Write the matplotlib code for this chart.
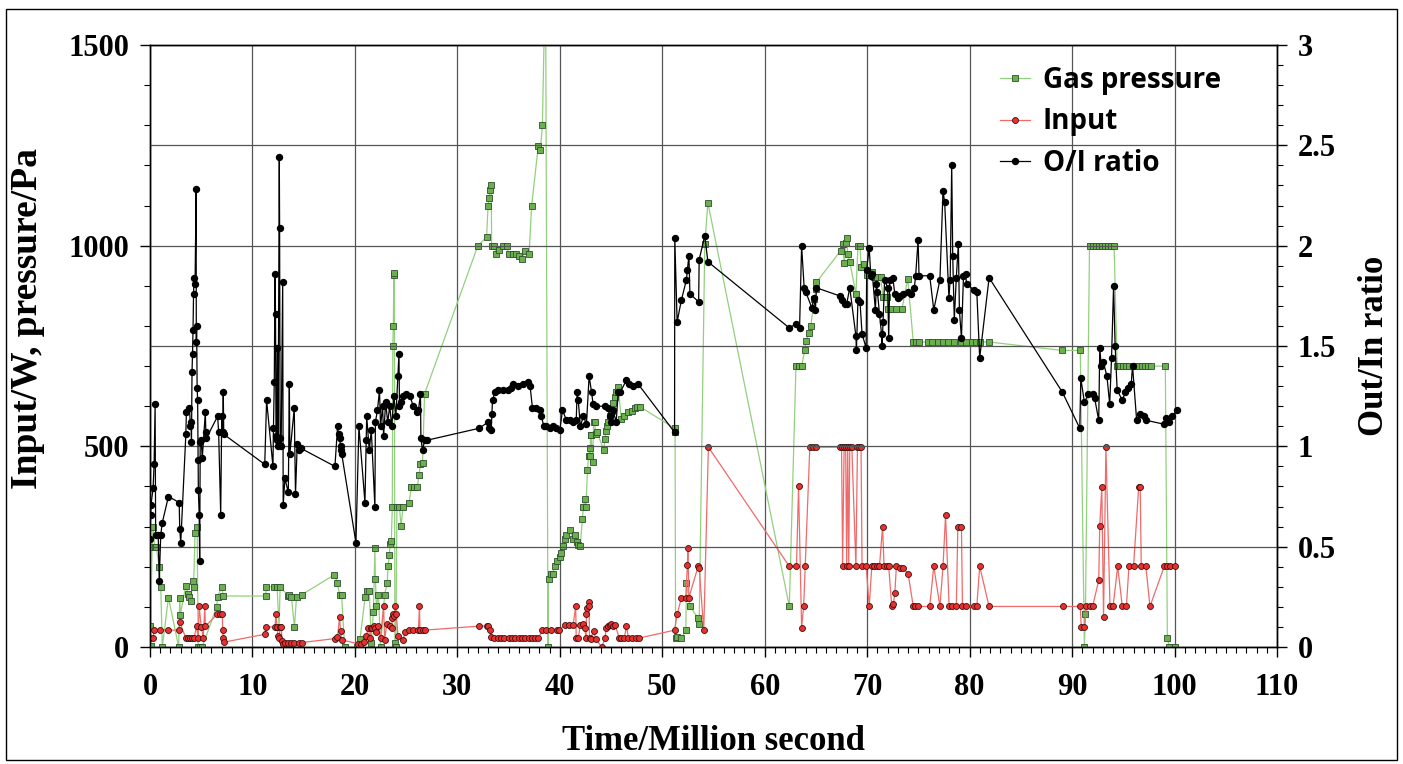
import matplotlib
matplotlib.use('Agg')
import matplotlib.pyplot as plt
from matplotlib.ticker import MultipleLocator, FormatStrFormatter
from matplotlib.lines import Line2D
from matplotlib.patches import Rectangle

# Gas pressure (Pa) vs time (million s)
gas_t = [0.0, 0.05, 0.2, 0.3, 0.45, 0.6, 0.9, 1.05, 1.2, 1.8, 2.8, 2.9, 2.95, 3.5, 3.7, 3.85, 4.0, 4.15, 4.25, 4.4,
         4.6, 4.7, 4.9, 5.1, 6.5, 6.6, 7.0, 7.15, 11.3, 11.35, 12.1, 12.4, 12.6, 12.7, 13.5, 13.6, 13.8, 14.1, 14.3, 14.8,
         18.0, 18.3, 18.5, 18.7, 19.0, 20.2, 20.5, 21.0, 21.2, 21.4, 21.6, 21.8, 21.95, 22.0, 22.1, 22.3, 22.5, 22.9, 23.15, 23.25,
         23.35, 23.45, 23.55, 23.65, 23.7, 23.75, 23.8, 23.85, 23.9, 24.0, 24.1, 24.35, 24.5, 24.7, 25.3, 25.5, 25.8, 26.1, 26.25, 26.4,
         26.6, 26.8, 32.0, 32.85, 33.0, 33.1, 33.2, 33.3, 33.35, 33.6, 33.8, 34.1, 34.5, 34.8, 35.0, 35.4, 35.7, 36.0, 36.3, 36.6,
         37.0, 37.25, 37.9, 38.1, 38.3, 38.6, 38.85, 38.9, 39.1, 39.3, 39.5, 39.7, 40.0, 40.1, 40.3, 40.5, 40.6, 41.0, 41.3, 41.5,
         41.7, 41.8, 42.0, 42.2, 42.3, 42.45, 42.55, 42.7, 42.8, 42.9, 42.95, 43.0, 43.05, 43.2, 43.3, 43.4, 43.5, 43.6, 44.3, 44.4,
         44.5, 44.6, 44.7, 44.85, 45.05, 45.2, 45.4, 45.5, 45.7, 46.0, 46.3, 46.7, 47.0, 47.3, 47.55, 47.8, 51.2, 51.25, 51.3, 51.45,
         51.87, 52.3, 52.36, 52.7, 53.5, 53.6, 54.15, 54.45, 62.4, 63.05, 63.3, 63.6, 63.9, 64.0, 64.35, 64.5, 64.85, 65.0, 65.05, 67.4,
         67.6, 67.75, 67.9, 68.0, 68.1, 68.3, 68.9, 69.1, 69.3, 69.4, 69.7, 70.0, 70.5, 70.7, 71.0, 71.3, 71.55, 71.9, 72.0, 72.3,
         72.8, 73.4, 73.96, 74.5, 74.8, 75.1, 75.9, 76.3, 76.9, 77.4, 77.9, 78.5, 79.2, 79.6, 80.2, 80.6, 81.0, 81.9, 89.0, 90.8,
         91.2, 91.3, 91.7, 92.0, 92.3, 92.6, 92.9, 93.2, 93.5, 93.8, 94.1, 94.4, 94.7, 95.0, 95.3, 95.6, 95.9, 96.2, 96.5, 96.8,
         97.1, 97.4, 97.7, 99.1, 99.3, 99.5, 100.0]
gas_p = [52, 3, 250, 300, 250, 250, 200, 150, 0, 123, 0, 123, 80, 153, 133, 125, 115, 165, 150, 285,
         300, 0, 0, 0, 100, 125, 150, 127, 127, 150, 150, 150, 50, 150, 127, 130, 125, 50, 125, 130,
         180, 160, 130, 130, 0, 0, 20, 125, 140, 140, 10, 86, 247, 169, 101, 130, 0, 130, 160, 203,
         228, 257, 264, 348, 750, 801, 926, 931, 10, 0, 348, 348, 301, 348, 360, 399, 399, 399, 428, 457,
         459, 631, 1000, 1021, 1100, 1120, 1139, 1151, 1000, 1000, 980, 990, 1000, 1000, 980, 980, 980, 975, 967, 987,
         980, 1099, 1249, 1239, 1300, 1700, 0, 169, 182, 182, 203, 215, 225, 235, 252, 268, 280, 291, 270, 280,
         262, 255, 252, 320, 348, 370, 350, 440, 475, 497, 475, 528, 528, 460, 560, 560, 530, 536, 491, 518,
         538, 550, 560, 575, 589, 609, 622, 635, 648, 567, 575, 585, 588, 595, 599, 599, 545, 536, 23, 25,
         22, 42, 159, 101, 72, 57, 1004, 1107, 101, 700, 700, 700, 739, 762, 782, 801, 868, 892, 909, 987,
         1003, 956, 1006, 1019, 980, 960, 880, 1000, 1000, 948, 955, 928, 934, 921, 921, 921, 873, 873, 843, 843,
         843, 843, 918, 760, 760, 760, 760, 760, 760, 760, 760, 760, 760, 760, 760, 760, 760, 760, 739, 739,
         0, 81, 1000, 1000, 1000, 1000, 1000, 1000, 1000, 1000, 1000, 700, 700, 700, 700, 700, 700, 700, 700, 700,
         700, 700, 700, 700, 22, 0, 0]

# Input power (W)
inp_t = [0.0, 0.3, 0.4, 1.0, 1.8, 2.85, 2.9, 3.5, 3.7, 3.9, 4.1, 4.3, 4.55, 4.7, 4.8, 5.0, 5.2, 5.35, 5.4, 6.55,
         6.8, 7.05, 7.1, 7.15, 7.2, 11.25, 11.3, 12.2, 12.3, 12.4, 12.5, 12.6, 12.7, 12.8, 12.9, 13.0, 13.2, 13.5, 13.8, 14.1,
         14.5, 14.8, 18.05, 18.3, 18.5, 18.6, 18.7, 20.3, 20.6, 20.9, 21.1, 21.3, 21.5, 21.6, 21.7, 21.9, 22.0, 22.1, 22.3, 22.5,
         22.8, 22.9, 23.1, 23.4, 23.6, 23.65, 23.7, 23.85, 23.95, 24.05, 24.2, 24.7, 24.9, 25.3, 25.7, 26.2, 26.3, 26.35, 26.6, 26.8,
         32.1, 32.9, 33.0, 33.2, 33.3, 33.6, 34.0, 34.3, 34.6, 35.0, 35.3, 35.6, 36.0, 36.3, 36.6, 37.0, 37.3, 37.6, 37.9, 38.3,
         38.7, 39.1, 39.7, 39.9, 40.5, 40.9, 41.3, 41.55, 41.6, 41.8, 42.0, 42.3, 42.45, 42.55, 42.6, 42.7, 42.8, 42.85, 42.9, 43.0,
         43.3, 43.5, 44.1, 44.4, 44.55, 44.7, 44.85, 45.0, 45.2, 45.4, 45.8, 46.0, 46.3, 46.5, 46.7, 47.0, 47.4, 47.7, 51.2, 51.45,
         51.87, 52.3, 52.45, 52.5, 52.6, 53.5, 53.6, 54.05, 54.5, 62.4, 63.1, 63.3, 63.6, 63.8, 63.95, 64.4, 64.7, 65.0, 67.3, 67.5,
         67.6, 67.75, 67.9, 68.0, 68.1, 68.2, 68.3, 68.5, 68.9, 69.05, 69.2, 69.4, 69.5, 69.9, 70.2, 70.45, 70.7, 70.95, 71.2, 71.5,
         71.65, 71.9, 72.1, 72.4, 72.55, 72.7, 72.85, 73.2, 73.5, 74.0, 74.5, 74.7, 75.0, 76.1, 76.5, 77.1, 77.4, 77.65, 78.0, 78.3,
         78.7, 78.85, 79.2, 79.3, 79.6, 80.4, 80.7, 80.98, 81.9, 89.1, 90.8, 90.9, 91.2, 91.4, 91.7, 92.0, 92.6, 92.7, 92.9, 93.07,
         93.3, 93.7, 94.0, 94.45, 94.9, 95.3, 95.55, 96.0, 96.5, 96.65, 96.75, 97.2, 97.6, 99.0, 99.3, 99.6, 100.0]
inp_w = [22, 22, 42, 42, 42, 42, 62, 22, 22, 22, 22, 22, 52, 22, 101, 50, 22, 101, 52, 81,
         81, 81, 42, 22, 12, 32, 50, 50, 81, 50, 27, 22, 50, 50, 15, 8, 11, 11, 11, 11,
         11, 11, 21, 24, 74, 40, 18, 8, 8, 13, 27, 47, 22, 47, 47, 52, 47, 37, 52, 22,
         101, 17, 57, 52, 47, 72, 81, 76, 101, 81, 27, 18, 37, 42, 42, 42, 101, 42, 42, 42,
         52, 52, 52, 42, 25, 22, 22, 22, 22, 22, 22, 22, 22, 22, 22, 22, 22, 22, 22, 42,
         42, 42, 42, 42, 55, 55, 55, 101, 22, 22, 55, 57, 47, 22, 81, 96, 111, 101, 22, 20,
         40, 20, 0, 22, 47, 52, 55, 57, 52, 55, 22, 22, 22, 52, 22, 22, 22, 22, 42, 81,
         123, 123, 205, 247, 123, 201, 198, 42, 498, 201, 201, 400, 48, 101, 201, 498, 498, 498, 498, 498,
         201, 498, 498, 201, 498, 201, 498, 498, 201, 498, 498, 498, 201, 201, 101, 201, 201, 201, 201, 299,
         201, 201, 201, 101, 106, 135, 201, 198, 198, 182, 101, 101, 101, 101, 201, 101, 201, 328, 101, 101,
         101, 299, 299, 101, 101, 101, 101, 201, 101, 101, 101, 49, 49, 101, 101, 101, 166, 301, 399, 74,
         498, 101, 101, 201, 101, 101, 201, 201, 399, 399, 201, 201, 101, 201, 201, 201, 201]

# Output/Input ratio
oi_t = [0.0, 0.05, 0.1, 0.3, 0.4, 0.5, 0.55, 0.8, 0.9, 1.05, 1.2, 1.8, 2.85, 2.9, 3.0, 3.5, 3.55, 3.85, 3.95, 4.0,
        4.05, 4.1, 4.15, 4.2, 4.25, 4.3, 4.4, 4.5, 4.52, 4.55, 4.6, 4.65, 4.7, 4.72, 4.8, 4.85, 4.9, 5.0, 5.1, 5.4,
        5.45, 5.5, 6.6, 6.7, 6.9, 7.0, 7.1, 7.15, 7.2, 11.2, 11.38, 12.0, 12.05, 12.13, 12.2, 12.25, 12.3, 12.35, 12.42, 12.5,
        12.62, 12.65, 12.7, 12.8, 12.95, 13.0, 13.17, 13.5, 13.6, 13.65, 14.08, 14.2, 14.37, 14.5, 14.73, 18.05, 18.31, 18.4, 18.5, 18.6,
        18.65, 18.72, 20.1, 20.39, 20.98, 21.1, 21.15, 21.4, 21.6, 21.95, 22.0, 22.2, 22.4, 22.5, 22.7, 22.8, 23.0, 23.2, 23.4, 23.6,
        23.8, 24.0, 24.2, 24.3, 24.35, 24.5, 24.7, 25.0, 25.37, 25.7, 26.03, 26.2, 26.4, 26.44, 26.6, 26.8, 27.0, 32.13, 32.98, 33.1,
        33.3, 33.37, 33.43, 33.66, 33.98, 34.5, 34.9, 35.2, 35.45, 35.9, 36.4, 36.91, 37.1, 37.33, 37.7, 38.05, 38.2, 38.44, 38.7, 39.0,
        39.3, 39.67, 40.0, 40.26, 40.65, 41.0, 41.3, 41.6, 41.69, 41.8, 42.0, 42.3, 42.6, 42.86, 43.1, 43.25, 43.5, 44.4, 44.7, 44.85,
        45.0, 45.2, 45.5, 45.7, 45.9, 46.5, 46.8, 47.1, 47.65, 51.2, 51.22, 51.45, 51.87, 52.36, 52.45, 52.6, 52.7, 53.55, 53.6, 54.15,
        54.45, 62.4, 63.05, 63.4, 63.6, 63.85, 64.0, 64.6, 64.8, 64.95, 65.05, 67.3, 67.5, 67.8, 68.0, 68.3, 68.9, 68.95, 69.1, 69.3,
        69.5, 69.9, 69.95, 70.2, 70.35, 70.5, 70.8, 70.9, 71.0, 71.2, 71.4, 71.45, 71.55, 71.7, 72.0, 72.1, 72.2, 72.5, 72.7, 73.0,
        73.2, 73.5, 74.0, 74.3, 74.6, 74.73, 74.97, 75.06, 76.1, 76.5, 77.1, 77.4, 77.56, 77.98, 78.1, 78.25, 78.35, 78.5, 78.7, 78.9,
        79.0, 79.2, 79.4, 79.6, 79.7, 80.4, 80.7, 80.98, 81.9, 89.05, 90.75, 90.85, 91.2, 91.6, 92.0, 92.2, 92.6, 92.7, 92.85, 93.05,
        93.4, 93.67, 93.85, 94.05, 94.2, 94.4, 94.9, 95.2, 95.5, 95.77, 95.9, 96.3, 96.6, 97.0, 97.2, 99.0, 99.2, 99.5, 99.8, 100.2]
oi_r = [0.54, 0.66, 0.71, 0.79, 0.91, 1.21, 0.56, 0.56, 0.33, 0.56, 0.62, 0.75, 0.72, 0.59, 0.52, 1.06, 1.17, 1.19, 1.1, 1.12,
        1.02, 1.37, 1.46, 1.58, 1.76, 1.84, 1.81, 2.28, 1.52, 1.6, 1.29, 1.23, 0.93, 0.78, 0.66, 0.43, 1.02, 1.03, 0.94, 1.17,
        1.07, 1.04, 1.15, 1.07, 0.66, 1.15, 1.07, 1.27, 1.06, 0.91, 1.23, 0.9, 1.09, 1.32, 1.86, 1.66, 1.05, 1.03, 1.49, 1.0,
        2.44, 2.09, 1.04, 1.0, 1.82, 0.71, 0.84, 0.77, 1.31, 0.96, 1.19, 0.76, 1.01, 0.98, 0.99, 0.9, 1.1, 1.06, 1.04, 1.0,
        0.98, 0.96, 0.52, 1.1, 0.72, 1.03, 1.15, 0.98, 1.08, 0.7, 1.12, 1.18, 1.28, 1.1, 1.2, 1.05, 1.22, 1.12, 1.2, 1.1,
        1.25, 1.15, 1.35, 1.46, 1.2, 1.22, 1.25, 1.26, 1.25, 1.2, 1.17, 1.18, 1.26, 1.04, 0.98, 1.03, 1.03, 1.09, 1.12, 1.09,
        1.08, 1.16, 1.23, 1.27, 1.28, 1.28, 1.28, 1.29, 1.31, 1.3, 1.31, 1.32, 1.3, 1.19, 1.19, 1.18, 1.15, 1.1, 1.1, 1.09,
        1.1, 1.09, 1.08, 1.18, 1.13, 1.13, 1.12, 1.13, 1.27, 1.23, 1.1, 1.15, 1.11, 1.35, 1.27, 1.21, 1.2, 1.2, 1.19, 1.15,
        1.12, 1.18, 1.12, 1.27, 1.27, 1.33, 1.31, 1.3, 1.31, 1.07, 2.04, 1.62, 1.73, 1.83, 1.88, 1.95, 1.76, 1.72, 1.93, 2.05,
        1.92, 1.59, 1.61, 1.59, 2.0, 1.79, 1.77, 1.69, 1.74, 1.68, 1.79, 1.75, 1.73, 1.71, 1.71, 1.79, 1.55, 1.48, 1.73, 1.72,
        1.56, 1.49, 1.88, 1.99, 1.85, 1.86, 1.68, 1.81, 1.77, 1.66, 1.56, 1.5, 1.62, 1.83, 1.79, 1.54, 1.83, 1.84, 1.76, 1.74,
        1.75, 1.76, 1.77, 1.76, 1.79, 1.85, 2.03, 1.85, 1.85, 1.68, 1.83, 2.27, 2.22, 1.74, 1.83, 2.4, 1.95, 1.63, 1.84, 2.01,
        1.68, 1.54, 1.85, 1.86, 1.81, 1.78, 1.77, 1.44, 1.84, 1.27, 1.09, 1.34, 1.22, 1.26, 1.26, 1.24, 1.13, 1.49, 1.4, 1.42,
        1.35, 1.21, 1.44, 1.8, 1.5, 1.28, 1.23, 1.27, 1.29, 1.31, 1.4, 1.13, 1.16, 1.15, 1.13, 1.11, 1.14, 1.12, 1.15, 1.18]

serif = 'Liberation Serif'

fig = plt.figure(figsize=(14.03, 7.64), dpi=100)
ax = fig.add_axes([150/1403, 1-647/764, 1127/1403, 602/764])
ax2 = ax.twinx()

ax.plot(gas_t, gas_p, color='#93d07e', lw=0.9, marker='s', ms=4.3, mfc='#6ab04c', mec='#2f4f2f', mew=0.6, zorder=3)
ax.plot(inp_t, inp_w, color='#f06a6a', lw=0.9, marker='o', ms=4.3, mfc='#e8302e', mec='#3a1010', mew=0.6, zorder=4)
ax2.plot(oi_t, oi_r, color='black', lw=0.9, marker='o', ms=4.3, mfc='black', mec='black', zorder=5)

ax.set_xlim(0, 110)
ax.set_ylim(0, 1500)
ax2.set_ylim(0, 3)

ax.xaxis.set_major_locator(MultipleLocator(10))
ax.xaxis.set_minor_locator(MultipleLocator(1))
ax.yaxis.set_major_locator(MultipleLocator(500))
ax.yaxis.set_minor_locator(MultipleLocator(100))
ax2.yaxis.set_major_locator(MultipleLocator(0.5))
ax2.yaxis.set_minor_locator(MultipleLocator(0.1))
ax2.yaxis.set_major_formatter(FormatStrFormatter('%g'))

# grid: vertical every 10, horizontal every 0.5 of the ratio axis
ax.grid(True, axis='x', which='major', color='#555555', lw=0.9)
ax2.grid(True, axis='y', which='major', color='#555555', lw=0.9)
ax.set_axisbelow(True)

for a in (ax, ax2):
    a.tick_params(which='major', direction='out', length=7, width=1, pad=8)
    a.tick_params(which='minor', direction='out', length=4, width=0.8)
    for lab in a.get_xticklabels() + a.get_yticklabels():
        lab.set_fontfamily(serif)
        lab.set_fontweight('bold')
        lab.set_fontsize(22)
    for s in a.spines.values():
        s.set_linewidth(1)
ax.tick_params(axis='x', which='major', pad=12)

ax.set_xlabel('Time/Million second', fontsize=25, fontweight='bold', family=serif, labelpad=16)
ax.set_ylabel('Input/W, pressure/Pa', fontsize=27, fontweight='bold', family=serif)
ax.yaxis.set_label_coords(-0.093, 0.545)
ax2.set_ylabel('Out/In ratio', fontsize=25, fontweight='bold', family=serif, rotation=90, labelpad=16)

handles = [Line2D([], [], color='#93d07e', lw=0.9, marker='s', ms=4.3, mfc='#6ab04c', mec='#2f4f2f', mew=0.6),
           Line2D([], [], color='#f06a6a', lw=0.9, marker='o', ms=4.3, mfc='#e8302e', mec='#3a1010', mew=0.6),
           Line2D([], [], color='black', lw=0.9, marker='o', ms=4.3, mfc='black')]
leg = ax2.legend(handles, ['Gas pressure', 'Input', 'O/I ratio'], loc='upper left',
                 bbox_to_anchor=(986/1403, 1-52/764), bbox_transform=fig.transFigure,
                 frameon=False, handlelength=1.1, handletextpad=0.45, labelspacing=0.45, borderpad=0,
                 prop={'family': 'Open Sans', 'weight': 'bold', 'size': 20})

fig.add_artist(Rectangle((0.004, 0.005), 0.992, 0.983, transform=fig.transFigure, fill=False, lw=1, color='black'))

fig.savefig('out.png', dpi=100)
